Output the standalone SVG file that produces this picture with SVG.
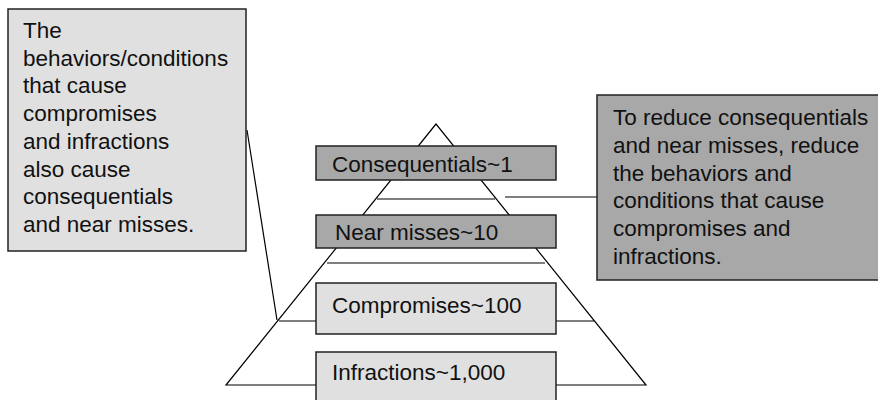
<svg xmlns="http://www.w3.org/2000/svg" width="878" height="400" viewBox="0 0 878 400">
  <style>
    .bg { fill: #ffffff; }
    .line { stroke: #000000; stroke-width: 1.2; fill: none; }
    .light { fill: #e0e0e0; stroke: #222222; stroke-width: 1.5; }
    .dark { fill: #a8a8a8; stroke: #222222; stroke-width: 1.5; }
    text { font-family: "Liberation Sans", Arial, sans-serif; font-size: 22.5px; fill: #111111; }
  </style>
  <rect class="bg" x="0" y="0" width="878" height="400"/>

  <!-- pyramid outline with level dividers -->
  <g id="pyramid">
    <polygon class="line" points="436,124 226,385 646,385"/>
    <line class="line" x1="377" y1="199" x2="495" y2="199"/>
    <line class="line" x1="327" y1="263" x2="545" y2="263"/>
    <line class="line" x1="279" y1="321" x2="594" y2="321"/>
  </g>

  <!-- leader lines from the callouts -->
  <g id="connectors">
    <line class="line" x1="247" y1="130" x2="277" y2="320"/>
    <line class="line" x1="505" y1="197" x2="597" y2="197"/>
  </g>

  <g id="level-consequentials">
    <rect class="dark" x="316" y="146" width="240" height="34"/>
    <text x="332" y="172">Consequentials~1</text>
  </g>

  <g id="level-near-misses">
    <rect class="dark" x="316" y="215" width="240" height="33"/>
    <text x="335" y="240">Near misses~10</text>
  </g>

  <g id="level-compromises">
    <rect class="light" x="316" y="283" width="240" height="51"/>
    <text x="332" y="313">Compromises~100</text>
  </g>

  <g id="level-infractions">
    <rect class="light" x="316" y="352" width="240" height="60"/>
    <text x="332" y="380">Infractions~1,000</text>
  </g>

  <g id="note-causes">
    <rect class="light" x="8" y="9" width="238" height="242"/>
    <text x="23" y="38">The</text>
    <text x="23" y="65.7">behaviors/conditions</text>
    <text x="23" y="93.4">that cause</text>
    <text x="23" y="121.1">compromises</text>
    <text x="23" y="148.8">and infractions</text>
    <text x="23" y="176.5">also cause</text>
    <text x="23" y="204.2">consequentials</text>
    <text x="23" y="231.9">and near misses.</text>
  </g>

  <g id="note-reduce">
    <rect class="dark" x="597" y="95" width="290" height="185"/>
    <text x="613" y="125">To reduce consequentials</text>
    <text x="613" y="152.8">and near misses, reduce</text>
    <text x="613" y="180.6">the behaviors and</text>
    <text x="613" y="208.4">conditions that cause</text>
    <text x="613" y="236.2">compromises and</text>
    <text x="613" y="264">infractions.</text>
  </g>
</svg>
